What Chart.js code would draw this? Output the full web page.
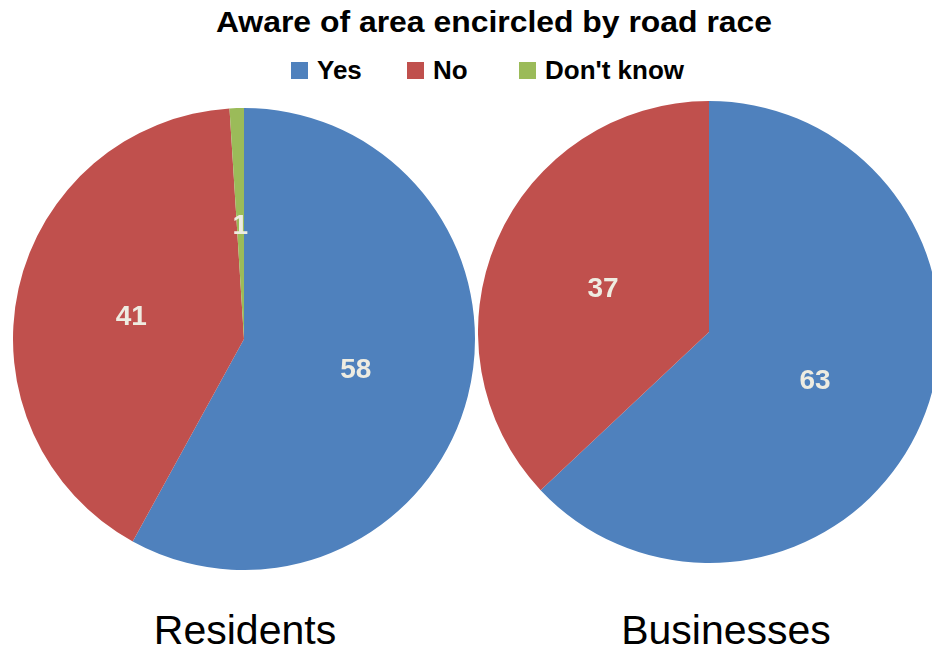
<!DOCTYPE html>
<html><head><meta charset="utf-8">
<script src="https://cdn.jsdelivr.net/npm/chart.js@4"></script>
<style>
html,body{margin:0;padding:0;width:932px;height:648px;overflow:hidden;background:#fff;font-family:"Liberation Sans",Arial,sans-serif;}
#title{position:absolute;left:0;width:988px;top:8px;line-height:29px;text-align:center;font-weight:bold;font-size:29px;color:#000;transform:scaleX(1.1);transform-origin:494px 0;white-space:nowrap;}
.sw{position:absolute;width:17px;height:17px;top:62px;}
.lt{position:absolute;top:57px;font-weight:bold;font-size:26px;line-height:26px;color:#000;white-space:nowrap;}
canvas{position:absolute;}
.lab{position:absolute;font-size:41px;line-height:41px;color:#000;text-align:center;width:300px;top:610px;}
</style></head>
<body>
<div id="title"></div>
<div id="legend"></div>
<canvas id="c1" width="462" height="462" style="left:13px;top:108px"></canvas>
<canvas id="c2" width="462" height="462" style="left:478px;top:101px"></canvas>
<div class="lab" id="l1" style="left:95px"></div>
<div class="lab" id="l2" style="left:576px"></div>
<script>
const titleText = "Aware of area encircled by road race";
const categories = ["Yes", "No", "Don't know"];
const groups = ["Residents", "Businesses"];
const residents = [58, 41, 1];
const businesses = [63, 37, 0];
const colors = ["#4F81BD", "#C0504D", "#9BBB59"];

document.getElementById('title').textContent = titleText;
const lg = document.getElementById('legend');
const swLeft = [291, 407, 519];
categories.forEach((c,i)=>{
  const sw=document.createElement('span'); sw.className='sw';
  sw.style.background=colors[i]; sw.style.left=swLeft[i]+'px';
  const t=document.createElement('span'); t.className='lt';
  t.style.left=(swLeft[i]+26)+'px'; t.textContent=c;
  lg.appendChild(sw); lg.appendChild(t);
});
document.getElementById('l1').textContent = groups[0];
document.getElementById('l2').textContent = groups[1];

const valueLabels = {
  id:'valueLabels',
  afterDatasetsDraw(chart){
    const ctx=chart.ctx; const ds=chart.data.datasets[0];
    chart.getDatasetMeta(0).data.forEach((arc,i)=>{
      const v=ds.data[i]; if(!v) return;
      const p=arc.tooltipPosition();
      ctx.save();
      ctx.fillStyle="#EEECE1";
      ctx.font="bold 28px 'Liberation Sans', Arial, sans-serif";
      ctx.textAlign="center"; ctx.textBaseline="middle";
      ctx.fillText(String(v), p.x, p.y + 3);
      ctx.restore();
    });
  }
};

function makePie(id, data){
  new Chart(document.getElementById(id), {
    type:'pie',
    data:{labels:categories, datasets:[{data:data, backgroundColor:colors, borderWidth:0}]},
    options:{responsive:false, devicePixelRatio:1, animation:false,
      layout:{padding:0},
      plugins:{legend:{display:false}, title:{display:false}, tooltip:{enabled:false}}},
    plugins:[valueLabels]
  });
}
makePie('c1', residents);
makePie('c2', businesses);
</script>
</body></html>
